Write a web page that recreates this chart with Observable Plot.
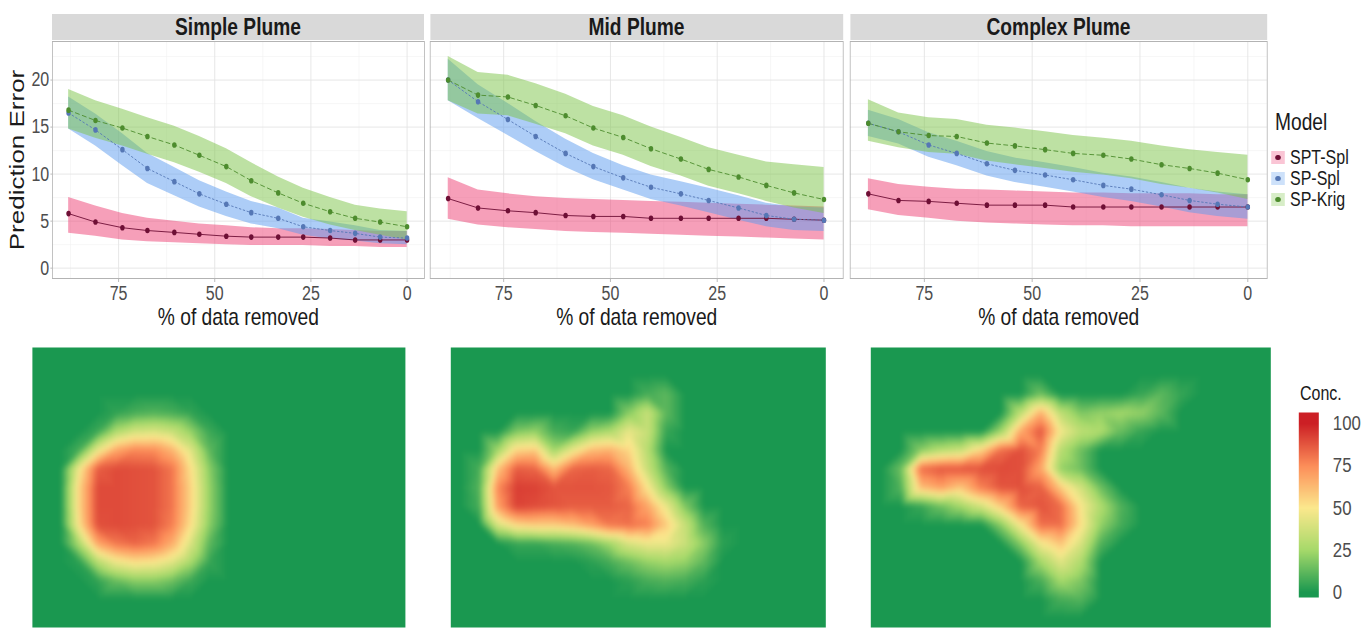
<!DOCTYPE html>
<html><head><meta charset="utf-8">
<script src="https://cdn.jsdelivr.net/npm/d3@7"></script>
<script src="https://cdn.jsdelivr.net/npm/@observablehq/plot@0.6"></script>
<style>
body{margin:0;background:#fff;overflow:hidden;}
#clip{position:relative;width:1367px;height:629px;overflow:hidden;}
#root{position:absolute;left:0;top:0;height:629px;transform-origin:0 0;font-family:"Liberation Sans",Arial,sans-serif;color:#1a1a1a;}
#root svg{position:absolute;overflow:visible;}
.strip{position:absolute;background:#d9d9d9;color:#1a1a1a;font-weight:bold;font-size:24px;text-align:center;line-height:26px;height:26px;}
.lab{position:absolute;white-space:nowrap;}
.key{position:absolute;}
</style></head><body><div id="clip"><div id="root"></div></div>
<script>
// ---------- data ----------
const plumes = ["Simple Plume", "Mid Plume", "Complex Plume"];
const models = ["SPT-Spl", "SP-Spl", "SP-Krig"];
const pctRemoved = [88, 81, 74, 67.5, 60.5, 54, 47, 40.5, 33.5, 27, 20, 13.5, 7, 0];
const xTicks = [75, 50, 25, 0];
const yTicks = [0, 5, 10, 15, 20];
const concTicks = [0, 25, 50, 75, 100];

const simpleSptSpl   = [5.8, 4.9, 4.3, 4.0, 3.8, 3.6, 3.4, 3.3, 3.3, 3.3, 3.2, 3.0, 3.0, 3.0];
const simpleSptSplLo = [3.7, 3.4, 3.0, 2.8, 2.7, 2.6, 2.5, 2.4, 2.4, 2.4, 2.3, 2.3, 2.2, 2.2];
const simpleSptSplHi = [7.5, 6.6, 5.8, 5.3, 5.0, 4.7, 4.5, 4.3, 4.2, 4.2, 4.1, 4.0, 3.9, 3.9];
const simpleSpSpl    = [16.5, 14.7, 12.6, 10.6, 9.2, 7.9, 6.8, 5.9, 5.3, 4.4, 4.0, 3.7, 3.3, 3.2];
const simpleSpSplLo  = [14.8, 13.0, 10.9, 9.0, 7.7, 6.5, 5.5, 4.7, 4.2, 3.5, 3.1, 2.9, 2.6, 2.5];
const simpleSpSplHi  = [18.2, 16.4, 14.3, 12.2, 10.7, 9.3, 8.1, 7.1, 6.4, 5.3, 4.9, 4.5, 4.0, 3.9];
const simpleSpKrig   = [16.8, 15.7, 14.9, 14.0, 13.1, 12.0, 10.8, 9.3, 8.0, 6.9, 6.0, 5.3, 4.9, 4.4];
const simpleSpKrigLo = [14.8, 13.8, 13.0, 12.1, 11.2, 10.2, 9.0, 7.6, 6.4, 5.4, 4.6, 4.0, 3.5, 3.0];
const simpleSpKrigHi = [19.0, 17.8, 16.9, 16.0, 15.1, 14.0, 12.7, 11.2, 9.7, 8.5, 7.5, 6.7, 6.3, 6.0];

const midSptSpl   = [7.4, 6.4, 6.1, 5.9, 5.6, 5.5, 5.5, 5.3, 5.3, 5.3, 5.3, 5.3, 5.2, 5.1];
const midSptSplLo = [5.2, 4.6, 4.3, 4.1, 3.9, 3.8, 3.7, 3.6, 3.5, 3.4, 3.3, 3.2, 3.1, 3.0];
const midSptSplHi = [9.6, 8.3, 7.9, 7.6, 7.4, 7.3, 7.2, 7.1, 7.0, 6.9, 6.8, 6.7, 6.6, 6.5];
const midSpSpl    = [20.0, 17.7, 15.8, 14.0, 12.2, 10.8, 9.6, 8.6, 7.9, 7.2, 6.4, 5.6, 5.2, 5.1];
const midSpSplLo  = [17.8, 15.9, 14.1, 12.4, 10.7, 9.4, 8.3, 7.3, 6.6, 5.9, 5.1, 4.4, 4.0, 3.9];
const midSpSplHi  = [22.2, 19.5, 17.5, 15.6, 13.7, 12.2, 10.9, 9.9, 9.2, 8.5, 7.7, 6.9, 6.5, 6.4];
const midSpKrig   = [20.0, 18.4, 18.2, 17.3, 16.2, 14.9, 13.9, 12.7, 11.6, 10.5, 9.7, 8.8, 8.0, 7.3];
const midSpKrigLo = [17.8, 16.4, 16.2, 15.3, 14.3, 13.0, 12.0, 10.8, 9.8, 8.7, 7.9, 7.1, 6.4, 5.8];
const midSpKrigHi = [22.5, 20.8, 20.5, 19.6, 18.5, 17.2, 16.2, 15.0, 13.9, 12.8, 12.0, 11.3, 11.0, 10.7];

const complexSptSpl   = [7.9, 7.2, 7.1, 6.9, 6.7, 6.7, 6.7, 6.5, 6.5, 6.5, 6.5, 6.5, 6.5, 6.5];
const complexSptSplLo = [6.2, 5.6, 5.3, 5.0, 4.8, 4.7, 4.6, 4.5, 4.5, 4.4, 4.4, 4.4, 4.4, 4.4];
const complexSptSplHi = [9.5, 8.9, 8.6, 8.4, 8.3, 8.2, 8.1, 8.0, 8.0, 7.9, 7.9, 7.9, 7.8, 7.8];
const complexSpSpl    = [15.4, 14.5, 13.1, 12.2, 11.1, 10.4, 9.9, 9.4, 8.8, 8.4, 7.8, 7.2, 6.8, 6.5];
const complexSpSplLo  = [14.0, 13.2, 11.8, 10.9, 9.8, 9.1, 8.6, 8.1, 7.5, 7.1, 6.5, 5.9, 5.5, 5.2];
const complexSpSplHi  = [16.8, 15.8, 14.4, 13.5, 12.4, 11.7, 11.2, 10.7, 10.1, 9.7, 9.1, 8.5, 8.1, 7.8];
const complexSpKrig   = [15.4, 14.5, 14.1, 14.0, 13.3, 13.0, 12.6, 12.2, 12.0, 11.6, 11.0, 10.6, 10.1, 9.4];
const complexSpKrigLo = [13.5, 12.8, 12.3, 12.1, 11.4, 11.0, 10.6, 10.2, 9.9, 9.5, 8.9, 8.5, 8.0, 7.3];
const complexSpKrigHi = [17.9, 16.5, 16.0, 15.8, 15.2, 14.9, 14.5, 14.1, 13.8, 13.5, 13.0, 12.6, 12.3, 12.0];

// concentration grids (15 rows x 20 columns, top row first)
const simpleConc = [
  [0,0,0,0,0,0,0,0,0,0,0,0,0,0,0,0,0,0,0,0],
  [0,0,0,0,0,0,0,0,0,0,0,0,0,0,0,0,0,0,0,0],
  [0,0,0,0,0,0,0,0,0,0,0,0,0,0,0,0,0,0,0,0],
  [0,0,0,0,4,8,10,8,4,0,0,0,0,0,0,0,0,0,0,0],
  [0,0,0,6,28,38,40,35,22,6,0,0,0,0,0,0,0,0,0,0],
  [0,0,8,45,68,76,75,64,42,12,0,0,0,0,0,0,0,0,0,0],
  [0,0,48,86,90,89,88,80,52,20,0,0,0,0,0,0,0,0,0,0],
  [0,0,55,90,90,89,88,80,55,22,0,0,0,0,0,0,0,0,0,0],
  [0,0,55,90,90,89,88,80,55,22,0,0,0,0,0,0,0,0,0,0],
  [0,0,52,89,90,89,88,78,52,20,0,0,0,0,0,0,0,0,0,0],
  [0,0,28,68,80,84,80,66,40,12,0,0,0,0,0,0,0,0,0,0],
  [0,0,3,30,46,52,50,42,26,5,0,0,0,0,0,0,0,0,0,0],
  [0,0,0,4,14,20,20,15,6,0,0,0,0,0,0,0,0,0,0,0],
  [0,0,0,0,0,0,0,0,0,0,0,0,0,0,0,0,0,0,0,0],
  [0,0,0,0,0,0,0,0,0,0,0,0,0,0,0,0,0,0,0,0]
];
const midConc = [
  [0,0,0,0,0,0,0,0,0,0,0,0,0,0,0,0,0,0,0,0],
  [0,0,0,0,0,0,0,0,0,0,0,0,0,0,0,0,0,0,0,0],
  [0,0,0,0,0,0,0,0,0,0,8,12,0,0,0,0,0,0,0,0],
  [0,0,0,0,0,0,0,0,0,20,35,12,0,0,0,0,0,0,0,0],
  [0,0,0,18,22,8,5,22,28,45,35,5,0,0,0,0,0,0,0,0],
  [0,0,25,55,58,25,45,62,65,55,30,0,0,0,0,0,0,0,0,0],
  [0,8,60,86,84,62,84,86,84,64,35,10,0,0,0,0,0,0,0,0],
  [0,10,75,93,92,88,88,88,87,78,50,20,0,0,0,0,0,0,0,0],
  [0,8,70,92,90,88,86,86,86,84,68,45,18,0,0,0,0,0,0,0],
  [0,0,40,55,58,58,62,70,80,82,78,58,35,10,0,0,0,0,0,0],
  [0,0,0,5,5,8,10,15,25,40,46,46,36,20,3,0,0,0,0,0],
  [0,0,0,0,0,0,0,3,8,15,22,25,22,12,0,0,0,0,0,0],
  [0,0,0,0,0,0,0,0,0,3,8,10,8,3,0,0,0,0,0,0],
  [0,0,0,0,0,0,0,0,0,0,0,0,0,0,0,0,0,0,0,0],
  [0,0,0,0,0,0,0,0,0,0,0,0,0,0,0,0,0,0,0,0]
];
const complexConc = [
  [0,0,0,0,0,0,0,0,0,0,0,0,0,0,0,0,0,0,0,0],
  [0,0,0,0,0,0,0,0,0,0,0,0,0,0,0,0,0,0,0,0],
  [0,0,0,0,0,0,0,0,15,0,0,0,0,5,12,5,0,0,0,0],
  [0,0,0,0,0,0,0,32,65,32,18,22,25,22,12,0,0,0,0,0],
  [0,0,0,0,0,0,25,68,88,48,32,28,14,5,0,0,0,0,0,0],
  [0,0,20,30,35,55,82,89,78,30,15,0,0,0,0,0,0,0,0,0],
  [0,15,82,88,88,89,90,89,68,22,15,0,0,0,0,0,0,0,0,0],
  [0,10,62,70,60,78,88,89,85,58,38,15,0,0,0,0,0,0,0,0],
  [0,0,5,15,25,38,58,85,88,82,50,28,10,0,0,0,0,0,0,0],
  [0,0,0,0,0,0,20,50,82,82,52,22,8,0,0,0,0,0,0,0],
  [0,0,0,0,0,0,0,20,48,60,40,10,0,0,0,0,0,0,0,0],
  [0,0,0,0,0,0,0,0,25,42,28,0,0,0,0,0,0,0,0,0],
  [0,0,0,0,0,0,0,0,8,25,18,0,0,0,0,0,0,0,0,0],
  [0,0,0,0,0,0,0,0,0,8,10,0,0,0,0,0,0,0,0,0],
  [0,0,0,0,0,0,0,0,0,0,0,0,0,0,0,0,0,0,0,0]
];

// ---------- styles ----------
const S = 0.8; // horizontal compression of the whole figure (text looks condensed)
const X = v => v / S;
const FONT = '"Liberation Sans",Arial,sans-serif';
const pointColors = ["#6e0f35", "#5577b5", "#4d8c2e"];
const bandColors = ["#ee3f74", "#5b9bef", "#7cc447"];
const lineDash = [null, "2,3", "5,4"];
const concColors = ["#1a9850", "#a6d96a", "#fbe88d", "#fc8d59", "#cc1f25"];

const seriesTable = {
  "Simple Plume": [[simpleSptSpl, simpleSptSplLo, simpleSptSplHi], [simpleSpSpl, simpleSpSplLo, simpleSpSplHi], [simpleSpKrig, simpleSpKrigLo, simpleSpKrigHi]],
  "Mid Plume": [[midSptSpl, midSptSplLo, midSptSplHi], [midSpSpl, midSpSplLo, midSpSplHi], [midSpKrig, midSpKrigLo, midSpKrigHi]],
  "Complex Plume": [[complexSptSpl, complexSptSplLo, complexSptSplHi], [complexSpSpl, complexSpSplLo, complexSpSplHi], [complexSpKrig, complexSpKrigLo, complexSpKrigHi]]
};
const concTable = {"Simple Plume": simpleConc, "Mid Plume": midConc, "Complex Plume": complexConc};

const root = document.getElementById("root");
root.style.width = X(1367) + "px";
root.style.transform = `scaleX(${S})`;
function place(el, left, top) { el.style.left = X(left) + "px"; el.style.top = top + "px"; root.appendChild(el); return el; }
function div(cls, text, left, top, css) {
  const d = document.createElement("div"); d.className = cls; if (text) d.textContent = text;
  Object.assign(d.style, css || {}); return place(d, left, top);
}

const panelGeom = [
  {left: 0, width: 430, ml: 52, mr: 6},
  {left: 425, width: 425, ml: 5, mr: 7},
  {left: 845, width: 427, ml: 5, mr: 5}
];
const frameTop = 41, frameH = 237, mb = 50;
const minorX = [87.5, 62.5, 37.5, 12.5];
const minorY = [2.5, 7.5, 12.5, 17.5, 22.5];

plumes.forEach((p, pi) => {
  const g = panelGeom[pi];
  const rows = [];
  models.forEach((m, mi) => {
    const [mean, lo, hi] = seriesTable[p][mi];
    pctRemoved.forEach((x, i) => rows.push({plume: p, model: m, x, y: mean[i], lo: lo[i], hi: hi[i]}));
  });
  const marks = [
    Plot.gridX(minorX, {stroke: "#f0f0f0", strokeOpacity: 1, strokeWidth: 0.6}),
    Plot.gridY(minorY, {stroke: "#f0f0f0", strokeOpacity: 1, strokeWidth: 0.6}),
    Plot.gridX(xTicks, {stroke: "#e4e4e4", strokeOpacity: 1}),
    Plot.gridY(yTicks, {stroke: "#e4e4e4", strokeOpacity: 1})
  ];
  models.forEach((m, mi) => {
    marks.push(Plot.areaY(rows.filter(d => d.model === m), {x: "x", y1: "lo", y2: "hi", fill: bandColors[mi], fillOpacity: 0.5}));
  });
  models.forEach((m, mi) => {
    marks.push(Plot.line(rows.filter(d => d.model === m), {x: "x", y: "y", stroke: pointColors[mi], strokeWidth: 1, strokeDasharray: lineDash[mi]}));
  });
  marks.push(Plot.dot(rows, {x: "x", y: "y", fill: "model", r: 2.8}));
  marks.push(Plot.frame({stroke: "#b3b3b3"}));
  marks.push(Plot.axisX(xTicks, {tickSize: 4, tickPadding: 3, fontSize: 20, fill: "#4d4d4d", stroke: "#b3b3b3", label: null}));
  marks.push(Plot.text(["% of data removed"], {text: d => d, frameAnchor: "bottom", lineAnchor: "middle", dy: 39, fontSize: 24, fill: "#1a1a1a"}));
  if (pi === 0) {
    marks.push(Plot.axisY(yTicks, {tickSize: 2, tickPadding: 2, fontSize: 20, fill: "#4d4d4d", stroke: "#b3b3b3", label: null}));
    marks.push(Plot.text(["Prediction Error"], {text: d => d, frameAnchor: "left", textAnchor: "middle", lineAnchor: "middle", rotate: -90, dx: X(-35), fontSize: 26, fill: "#1a1a1a"}));
  }
  const svg = Plot.plot({
    width: X(g.width), height: frameH + mb,
    marginLeft: X(g.ml), marginRight: X(g.mr), marginTop: 0, marginBottom: mb,
    style: {fontFamily: FONT, background: "transparent", overflow: "visible"},
    x: {domain: [92.2, -4.5]},
    y: {domain: [-1.1, 24.1], axis: pi === 0 ? undefined : null},
    color: {domain: models, range: pointColors},
    marks
  });
  place(svg, g.left, frameTop);
  div("strip", p, g.left + g.ml, 14, {width: X(g.width - g.ml - g.mr) + "px"});
});

// ---------- legend: Model ----------
div("lab", "Model", 1275, 109, {fontSize: "24px", lineHeight: "26px"});
models.forEach((m, mi) => {
  const y = 157 + mi * 21;
  div("key", "", 1271.5, y - 6.5, {width: X(13) + "px", height: "13px", background: bandColors[mi], opacity: 0.3});
  div("key", "", 1275.5, y - 2.5, {width: X(5) + "px", height: "5px", borderRadius: "50%", background: pointColors[mi]});
  div("lab", m, 1290, y - 10, {fontSize: "20px", lineHeight: "20px", height: "20px"});
});

// ---------- heatmaps ----------
const mapGeom = [
  {left: 32, width: 373},
  {left: 450, width: 375},
  {left: 870, width: 400}
];
const colorOpts = {type: "linear", domain: concTicks, range: concColors, clamp: true};
plumes.forEach((p, pi) => {
  const grid = concTable[p];
  const pts = [];
  grid.forEach((row, r) => row.forEach((v, c) => pts.push({c, r, v})));
  const svg = Plot.plot({
    width: X(mapGeom[pi].width), height: 280, margin: 0,
    x: {domain: [-0.5, 19.5], axis: null},
    y: {domain: [14.5, -0.5], axis: null},
    color: colorOpts,
    marks: [
      Plot.raster(pts, {x: "c", y: "r", fill: "v", x1: -0.5, x2: 19.5, y1: 14.5, y2: -0.5,
        interpolate: "barycentric", pixelSize: 2, blur: 1})
    ]
  });
  place(svg, mapGeom[pi].left, 347);
});

// ---------- colour bar ----------
div("lab", "Conc.", 1300, 380, {fontSize: "20px", lineHeight: "26px"});
const bar = Plot.plot({
  width: X(77), height: 210,
  marginLeft: X(8), marginRight: X(49), marginTop: 12, marginBottom: 13,
  style: {fontFamily: FONT, background: "transparent", overflow: "visible"},
  x: {domain: [0, 1], axis: null},
  y: {domain: [-3, 106.5]},
  color: colorOpts,
  marks: [
    Plot.raster({x1: 0, x2: 1, y1: -3, y2: 106.5, fill: (x, y) => y, pixelSize: 1}),
    Plot.axisY(concTicks, {anchor: "right", tickSize: 0, tickPadding: X(14), fontSize: 21, fill: "#4d4d4d", label: null})
  ]
});
place(bar, 1290, 400);
</script></body></html>
